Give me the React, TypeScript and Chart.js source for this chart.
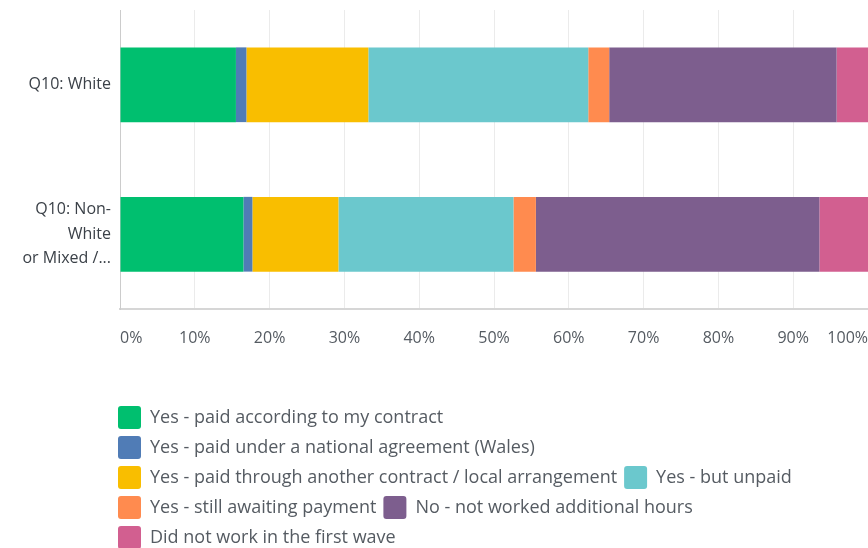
import React, { useEffect, useRef } from "react";
import { Chart, registerables } from "chart.js";

Chart.register(...registerables);

const categories: string[][] = [["Q10: White"], ["Q10: Non-", "White", "or Mixed /..."]];

const seriesNames = [
  "Yes - paid according to my contract",
  "Yes - paid under a national agreement (Wales)",
  "Yes - paid through another contract / local arrangement",
  "Yes - but unpaid",
  "Yes - still awaiting payment",
  "No - not worked additional hours",
  "Did not work in the first wave",
];

const paidContract = [15.5, 16.5];
const paidNational = [1.4, 1.2];
const paidOther = [16.3, 11.5];
const unpaid = [29.4, 23.4];
const awaiting = [2.8, 3.0];
const notWorked = [30.4, 37.9];
const didNotWork = [4.2, 6.5];

const colors = ["#00BF6F", "#507CB6", "#F9BE00", "#6BC8CD", "#FF8B4F", "#7D5E8E", "#D25F90"];

const FONT = "'Open Sans', Lato, sans-serif";

const legendShift = {
  id: "legendShift",
  afterLayout(chart: any) {
    const lg = chart.legend;
    if (lg) {
      lg.left -= 9;
      lg.right -= 9;
    }
  },
};

export default function App() {
  const ref = useRef<HTMLCanvasElement | null>(null);
  useEffect(() => {
    if (!ref.current) return;
    const series = [paidContract, paidNational, paidOther, unpaid, awaiting, notWorked, didNotWork];
    const chart = new Chart(ref.current, {
      type: "bar",
      data: {
        labels: categories,
        datasets: series.map((d, i) => ({
          label: seriesNames[i],
          data: d,
          backgroundColor: colors[i],
          borderWidth: 0,
          barPercentage: 0.5,
          categoryPercentage: 1.0,
        })),
      },
      plugins: [legendShift],
      options: {
        indexAxis: "y",
        animation: false,
        responsive: true,
        maintainAspectRatio: false,
        layout: { padding: { top: 10, left: 0, right: 0, bottom: -11 } },
        scales: {
          x: {
            stacked: true,
            min: 0,
            max: 100,
            ticks: {
              stepSize: 10,
              callback: (v: any) => v + "%",
              align: "inner",
              padding: 20,
              color: "#555b62",
              font: { family: FONT, size: 16 },
            },
            grid: { color: "#ebebeb", drawTicks: false, lineWidth: 1 },
            border: { display: true, color: "#d6d6d6", width: 2 },
            afterFit: (s: any) => {
              s.height = 90;
              s.paddingLeft = 0;
              s.paddingRight = 0;
            },
          },
          y: {
            stacked: true,
            ticks: {
              padding: 9,
              color: "#3b4148",
              font: { family: FONT, size: 16, lineHeight: 1.53 },
            },
            grid: { display: false, drawTicks: false },
            border: { display: true, color: "#cccccc", width: 1 },
            afterFit: (s: any) => {
              s.width = 120;
              s.paddingTop = 0;
              s.paddingBottom = 0;
            },
          },
        },
        plugins: {
          tooltip: { enabled: false },
          legend: {
            position: "bottom",
            align: "start",
            fullSize: false,
            labels: {
              boxWidth: 23,
              boxHeight: 23,
              padding: 7,
              useBorderRadius: true,
              borderRadius: 3,
              color: "#555b62",
              font: { family: FONT, size: 18 },
            },
          },
        },
      } as any,
    });
    return () => chart.destroy();
  }, []);
  return (
    <div style={{ position: "absolute", left: 0, top: 0, width: 868, height: 548 }}>
      <canvas ref={ref} />
    </div>
  );
}
